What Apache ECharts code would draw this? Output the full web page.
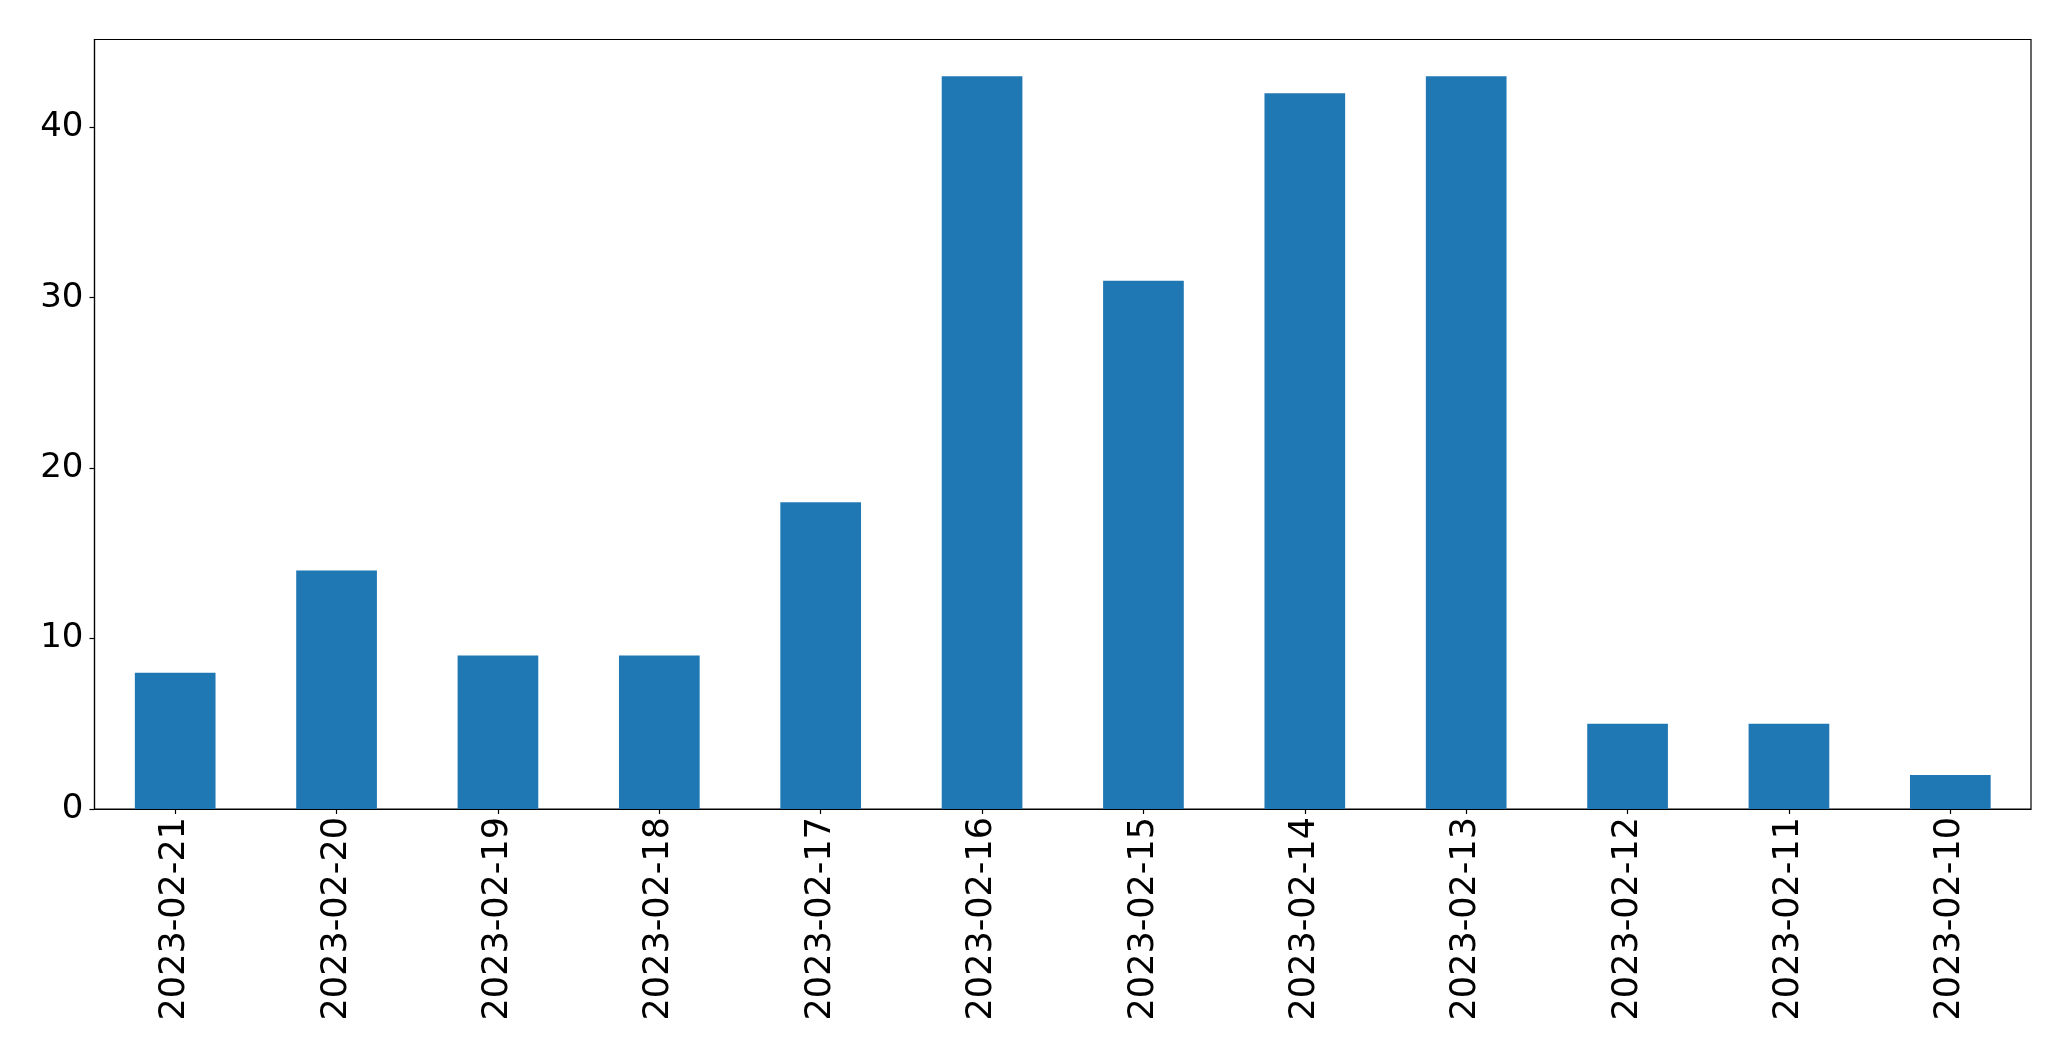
<!DOCTYPE html>
<html>
<head>
<meta charset="utf-8">
<style>html,body{margin:0;padding:0;background:#fff}#c{width:2071px;height:1061px}</style>
<script src="https://cdn.jsdelivr.net/npm/echarts@6/dist/echarts.min.js"></script>
</head>
<body>
<div id="c"></div>
<script>
const categories = ["2023-02-21","2023-02-20","2023-02-19","2023-02-18","2023-02-17","2023-02-16","2023-02-15","2023-02-14","2023-02-13","2023-02-12","2023-02-11","2023-02-10"];
const values = [8, 14, 9, 9, 18, 43, 31, 42, 43, 5, 5, 2];
const yTicks = [0, 10, 20, 30, 40];
const yMax = 45.15;

const chart = echarts.init(document.getElementById('c'), null, {renderer: 'canvas'});
const font = 'DejaVu Sans';
chart.setOption({
  animation: false,
  grid: {left: 94.5, right: 40, top: 39.5, bottom: 252, show: true, borderColor: '#000', borderWidth: 1.2, backgroundColor: 'transparent'},
  xAxis: {
    type: 'category',
    data: categories,
    boundaryGap: true,
    axisLine: {show: true, lineStyle: {color: '#000', width: 1.2}},
    axisTick: {show: true, alignWithLabel: true, length: 5, lineStyle: {color: '#000', width: 1.2}},
    axisLabel: {rotate: 90, fontFamily: font, fontSize: 35, color: '#000', margin: 8, interval: 0}
  },
  yAxis: {
    type: 'value',
    min: 0,
    max: yMax,
    splitLine: {show: false},
    axisLine: {show: true, lineStyle: {color: '#000', width: 1.2}},
    axisTick: {show: true, length: 5, lineStyle: {color: '#000', width: 1.2}, customValues: yTicks},
    axisLabel: {fontFamily: font, fontSize: 34, color: '#000', margin: 11, customValues: yTicks}
  },
  series: [{
    type: 'bar',
    data: values,
    barWidth: '50%',
    itemStyle: {color: '#1f77b4'}
  }]
});
</script>
</body>
</html>
